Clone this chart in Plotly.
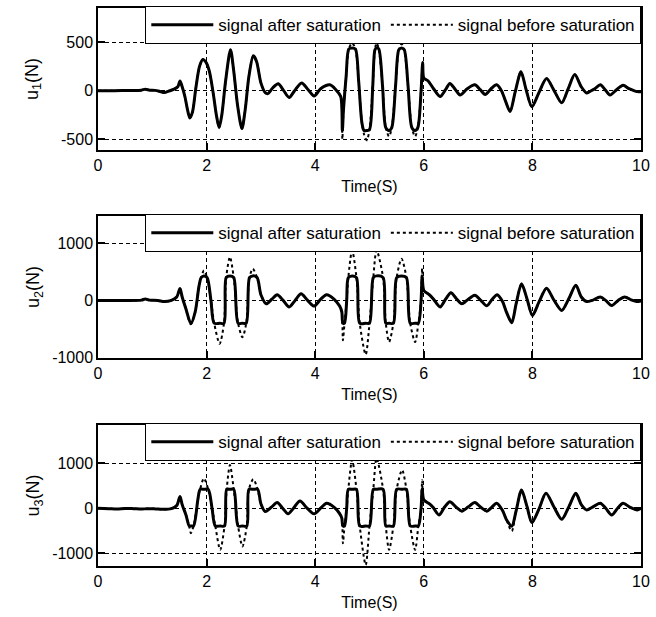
import plotly.graph_objects as go

# ---------------- data ----------------
t1 = [0.0, 0.3, 0.6, 0.8, 0.87, 0.95, 1.05, 1.15, 1.22, 1.3, 1.4, 1.47, 1.51, 1.55, 1.6, 1.65, 1.69, 1.74,
      1.8, 1.87, 1.93, 1.99, 2.05, 2.12, 2.18, 2.23, 2.28, 2.35, 2.44, 2.5, 2.57, 2.65, 2.71, 2.78, 2.86,
      2.92, 3.0, 3.08, 3.13, 3.22, 3.32, 3.42, 3.52, 3.62, 3.75, 3.87, 3.98, 4.1, 4.27, 4.38, 4.47, 4.5,
      4.52, 4.57, 4.62, 4.68, 4.74, 4.8, 4.86, 4.9, 4.95, 5.0, 5.06, 5.1, 5.13, 5.17, 5.24, 5.3, 5.36,
      5.41, 5.48, 5.54, 5.59, 5.64, 5.71, 5.78, 5.84, 5.89, 5.95, 5.98, 6.0, 6.08, 6.18, 6.3, 6.4, 6.48,
      6.57, 6.67, 6.8, 6.94, 7.04, 7.13, 7.24, 7.34, 7.43, 7.5, 7.59, 7.68, 7.79, 7.88, 7.99, 8.12, 8.26,
      8.4, 8.54, 8.66, 8.78, 8.9, 9.0, 9.05, 9.15, 9.25, 9.34, 9.43, 9.55, 9.67, 9.78, 9.85, 9.93, 10.0]
u1_before = [0, 0, 2, 5, 15, 5, 3, -10, -20, -5, 15, 40, 100, 40, -60, -200, -280, -220,
             20, 250, 320, 290, 200, -20, -250, -380, -250, 100, 420, 200, -150, -390, -200, 150, 360,
             300, 80, -20, -30, 30, 70, 0, -70, 0, 80, 10, -55, 20, 60, 10, -60, -500,
             -200, 150, 430, 490, 430, 100, -330, -450, -510, -400, 50, 420, 490, 430, 50, -380, -470,
             -380, 50, 420, 480, 420, 50, -380, -470, -380, 0, 290, 130, 100, 20, -60, 10, 75,
             20, -45, 20, 60, 10, -40, 20, 60, 0, -100, -215, -20, 195, 20, -165, -20, 125,
             0, -125, 20, 165, 40, -25, -10, 20, 60, 10, -45, 10, 55, 20, 5, -10, -10]
u1_after = [0, 0, 2, 5, 15, 5, 3, -10, -20, -5, 15, 40, 100, 40, -60, -200, -280, -220,
            20, 250, 320, 290, 200, -20, -250, -380, -250, 100, 420, 200, -150, -390, -200, 150, 360,
            300, 80, -20, -30, 30, 70, 0, -70, 0, 80, 10, -55, 20, 60, 10, -60, -410,
            -200, 150, 430, 440, 430, 100, -330, -410, -410, -400, 50, 420, 440, 430, 50, -380, -410,
            -380, 50, 420, 440, 420, 50, -380, -410, -380, 0, 290, 130, 100, 20, -60, 10, 75,
            20, -45, 20, 60, 10, -40, 20, 60, 0, -100, -215, -20, 195, 20, -165, -20, 125,
            0, -125, 20, 165, 40, -25, -10, 20, 60, 10, -45, 10, 55, 20, 5, -10, -10]

t2 = [0.0, 0.4, 0.8, 0.87, 0.95, 1.1, 1.22, 1.35, 1.45, 1.51, 1.55, 1.62, 1.71, 1.79, 1.86, 1.9, 1.95,
      2.01, 2.08, 2.14, 2.24, 2.32, 2.36, 2.43, 2.5, 2.58, 2.66, 2.73, 2.79, 2.85, 2.93, 3.0, 3.1, 3.2,
      3.3, 3.41, 3.52, 3.63, 3.74, 3.86, 3.98, 4.1, 4.21, 4.35, 4.45, 4.49, 4.51, 4.54, 4.58, 4.61, 4.68,
      4.76, 4.82, 4.93, 5.0, 5.07, 5.13, 5.25, 5.3, 5.36, 5.44, 5.5, 5.59, 5.68, 5.75, 5.84, 5.9, 5.95,
      5.97, 6.0, 6.1, 6.18, 6.3, 6.4, 6.5, 6.6, 6.7, 6.82, 6.94, 7.05, 7.16, 7.26, 7.35, 7.45, 7.52, 7.62,
      7.7, 7.8, 7.9, 8.0, 8.12, 8.26, 8.4, 8.54, 8.67, 8.8, 8.9, 9.0, 9.1, 9.25, 9.35, 9.46, 9.58, 9.7,
      9.82, 9.92, 10.0]
u2_before = [0, 0, 5, 25, 5, 0, -20, 0, 60, 210, 60, -150, -420, -200, 250, 400, 525,
             400, 0, -400, -760, -400, 400, 760, 400, -400, -645, -400, 400, 555, 400, 100, -60, 20,
             100, 0, -115, 0, 115, 0, -100, 20, 100, 20, -100, -200, -700, -400, 0, 400, 880,
             400, -400, -950, -400, 400, 880, 400, -400, -730, -400, 400, 730, 400, -400, -730, -400, 0,
             560, 175, 100, 20, -115, 20, 135, 30, -60, 20, 90, 0, -95, 20, 100, -20, -200, -390,
             -60, 290, 30, -265, -30, 215, 0, -175, 30, 265, 60, -20, 0, 60, 0, -90, 0, 60,
             10, -20, -10]
u2_after = [0, 0, 5, 25, 5, 0, -20, 0, 60, 210, 60, -150, -405, -200, 250, 400, 430,
            400, 0, -400, -400, -400, 400, 430, 400, -400, -400, -400, 400, 430, 400, 100, -60, 20,
            100, 0, -115, 0, 115, 0, -100, 20, 100, 20, -100, -200, -400, -400, 0, 400, 430,
            400, -400, -400, -400, 400, 430, 400, -400, -400, -400, 400, 430, 400, -400, -400, -400, 0,
            430, 175, 100, 20, -115, 20, 135, 30, -60, 20, 90, 0, -95, 20, 100, -20, -200, -390,
            -60, 290, 30, -265, -30, 215, 0, -175, 30, 265, 60, -20, 0, 60, 0, -90, 0, 60,
            10, -20, -10]

t3 = [0.0, 0.2, 0.35, 0.5, 0.65, 0.8, 0.9, 1.05, 1.2, 1.35, 1.45, 1.51, 1.55, 1.62, 1.68, 1.71, 1.76,
      1.84, 1.88, 1.95, 2.03, 2.1, 2.16, 2.25, 2.33, 2.37, 2.43, 2.5, 2.58, 2.66, 2.74, 2.78, 2.86, 2.94,
      3.0, 3.08, 3.2, 3.3, 3.4, 3.5, 3.6, 3.72, 3.85, 3.98, 4.1, 4.21, 4.35, 4.45, 4.49, 4.51, 4.54, 4.58,
      4.61, 4.68, 4.76, 4.82, 4.93, 5.0, 5.07, 5.13, 5.25, 5.3, 5.36, 5.44, 5.5, 5.6, 5.68, 5.75, 5.84,
      5.9, 5.95, 5.97, 6.0, 6.1, 6.17, 6.28, 6.38, 6.48, 6.6, 6.7, 6.82, 6.94, 7.05, 7.16, 7.25, 7.34,
      7.45, 7.52, 7.62, 7.7, 7.8, 7.9, 7.99, 8.12, 8.25, 8.4, 8.54, 8.67, 8.8, 8.9, 9.0, 9.1, 9.25, 9.35,
      9.46, 9.57, 9.67, 9.8, 9.93, 10.0]
u3_before = [0, -10, -20, -5, -10, -20, -10, -15, -25, -10, 60, 260, 80, -150, -395, -555, -395,
             200, 420, 665, 420, 0, -395, -925, -395, 420, 960, 420, -395, -850, -395, 420, 645, 420,
             100, -75, 30, 125, 0, -125, 0, 160, 0, -125, 0, 110, 20, -120, -220, -780, -395, 0,
             420, 1070, 420, -395, -1260, -395, 420, 1110, 420, -395, -925, -395, 420, 850, 420, -395, -925,
             -395, 0, 620, 185, 100, 20, -150, 20, 145, 20, -65, 30, 125, 20, -65, 20, 110,
             -50, -250, -510, -60, 405, 40, -320, -20, 330, 20, -245, 30, 330, 80, -40, 20, 110, 0,
             -150, 0, 110, 20, -40, 0]
u3_after = [0, -10, -20, -5, -10, -20, -10, -15, -25, -10, 60, 260, 80, -150, -395, -395, -395,
            200, 420, 420, 420, 0, -395, -395, -395, 420, 420, 420, -395, -395, -395, 420, 420, 420,
            100, -75, 30, 125, 0, -125, 0, 160, 0, -125, 0, 110, 20, -120, -220, -395, -395, 0,
            420, 420, 420, -395, -395, -395, 420, 420, 420, -395, -395, -395, 420, 420, 420, -395, -395,
            -395, 0, 420, 185, 100, 20, -150, 20, 145, 20, -65, 30, 125, 20, -65, 20, 110,
            -50, -250, -400, -60, 405, 40, -320, -20, 330, 20, -245, 30, 330, 80, -40, 20, 110, 0,
            -150, 0, 110, 20, -40, 0]

x_ticks = [0, 2, 4, 6, 8, 10]
y_ticks = [[-500, 0, 500], [-1000, 0, 1000], [-1000, 0, 1000]]
y_ticktext = [["-500", "0", "500"], ["-1000", "0", "1000"], ["-1000", "0", "1000"]]
y_titles = ["u<sub>1</sub>(N)", "u<sub>2</sub>(N)", "u<sub>3</sub>(N)"]
y_ranges = [[-610, 850], [-1010, 1480], [-1285, 1850]]
x_title = "Time(S)"
name_after = "signal after saturation"
name_before = "signal before saturation"

# ---------------- figure ----------------
FONT = "Arial, Liberation Sans, sans-serif"
W, H = 656, 617
left, right = 98 / W, 641 / W
panels_px = [(8, 150), (216, 358), (425, 566)]  # top, bottom in px

fig = go.Figure()
series = [(t1, u1_before, u1_after), (t2, u2_before, u2_after), (t3, u3_before, u3_after)]
legend_ids = ["legend", "legend2", "legend3"]
for i, (t, before, after) in enumerate(series):
    xa = "x" if i == 0 else f"x{i+1}"
    ya = "y" if i == 0 else f"y{i+1}"
    fig.add_trace(go.Scatter(x=t, y=before, mode="lines", name=name_before, xaxis=xa, yaxis=ya,
                             line=dict(color="black", width=2, dash="dot", shape="spline", smoothing=0.8),
                             legend=legend_ids[i], legendrank=2))
    fig.add_trace(go.Scatter(x=t, y=after, mode="lines", name=name_after, xaxis=xa, yaxis=ya,
                             line=dict(color="black", width=3, shape="spline", smoothing=0.8),
                             legend=legend_ids[i], legendrank=1))

layout = dict(width=W, height=H, margin=dict(l=0, r=0, t=0, b=0),
              paper_bgcolor="white", plot_bgcolor="white",
              font=dict(family=FONT, size=16, color="black"))
standoffs = [18, 8, 8]
for i, (top, bot) in enumerate(panels_px):
    sfx = "" if i == 0 else str(i + 1)
    dom = [(H - bot) / H, (H - top) / H]
    layout["xaxis" + sfx] = dict(domain=[left, right], anchor="y" + sfx, range=[0, 10],
                                 tickvals=x_ticks, ticks="inside", ticklen=7, tickwidth=1.5,
                                 tickcolor="black", showline=True, linecolor="black", linewidth=1.5,
                                 mirror="ticks", showgrid=True, gridcolor="black", gridwidth=1,
                                 griddash="4px,3px", zeroline=False, automargin=False,
                                 tickfont=dict(size=16, family=FONT),
                                 title=dict(text=x_title, font=dict(size=16, family=FONT), standoff=8))
    layout["yaxis" + sfx] = dict(domain=dom, anchor="x" + sfx, range=y_ranges[i],
                                 tickvals=y_ticks[i], ticktext=y_ticktext[i], ticks="inside",
                                 ticklen=7, tickwidth=1.5,
                                 tickcolor="black", showline=True, linecolor="black", linewidth=1.5,
                                 mirror="ticks", showgrid=True, gridcolor="black", gridwidth=1,
                                 griddash="4px,3px", zeroline=False, automargin=False,
                                 tickfont=dict(size=16, family=FONT),
                                 title=dict(text=y_titles[i], font=dict(size=18, family=FONT),
                                            standoff=standoffs[i]))
    layout[legend_ids[i]] = dict(x=right, xanchor="right", y=dom[1] + 2 / H, yanchor="top",
                                 orientation="h", bgcolor="white", bordercolor="black",
                                 borderwidth=1.3, font=dict(size=17, family=FONT),
                                 itemwidth=62, traceorder="normal")
fig.update_layout(**layout)
fig.write_html("out.html")
